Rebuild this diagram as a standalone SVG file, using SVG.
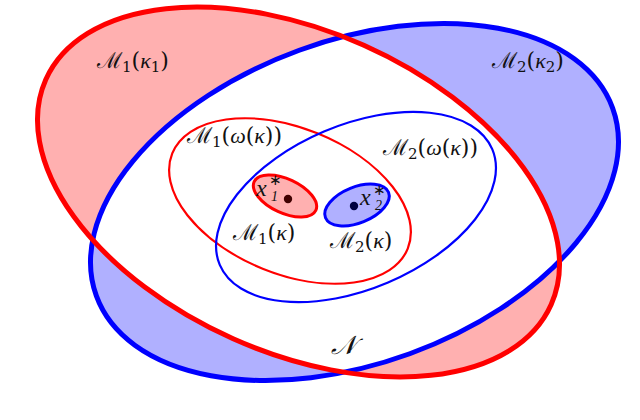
<svg xmlns="http://www.w3.org/2000/svg" width="640" height="420" viewBox="0 0 640 420">
<defs>
<style>
.lbl{font-family:"DejaVu Serif","Liberation Serif",serif;font-size:22px;fill:#111}
.it{font-style:italic;font-family:"Liberation Serif","DejaVu Serif",serif}
.sub{font-size:15px}
.sm{font-family:"Liberation Serif","DejaVu Serif",serif;font-size:14px;fill:#111}
.star{font-family:"DejaVu Sans","Liberation Sans",sans-serif;font-size:15px;fill:#111}
</style>
<clipPath id="clipRed"><ellipse cx="0" cy="0" rx="276.6" ry="160.7" transform="translate(298.5 192) rotate(24)"/></clipPath>
</defs>
<rect width="640" height="420" fill="#fff"/>
<g id="M1k1-fill"><ellipse cx="0" cy="0" rx="276.6" ry="160.7" transform="translate(298.5 192) rotate(24)" fill="#ffb0b0"/></g>
<g id="M2k2-fill"><ellipse cx="0" cy="0" rx="274.7" ry="161.5" transform="translate(354.5 202) rotate(-20)" fill="#b0b0ff"/></g>
<g id="N-region" clip-path="url(#clipRed)"><ellipse cx="0" cy="0" rx="274.7" ry="161.5" transform="translate(354.5 202) rotate(-20)" fill="#fff"/></g>
<g id="M1wk"><ellipse cx="0" cy="0" rx="127" ry="73" transform="translate(290 201) rotate(22)" fill="none" stroke="#f00" stroke-width="2.2"/></g>
<g id="M2wk"><ellipse cx="0" cy="0" rx="148" ry="82" transform="translate(356 207) rotate(-23)" fill="none" stroke="#00f" stroke-width="2.2"/></g>
<g id="M1k"><ellipse cx="0" cy="0" rx="34" ry="17" transform="translate(285 196) rotate(25)" fill="#ffb0b0" stroke="#f00" stroke-width="3"/><circle cx="288" cy="199" r="4.2" fill="#400000"/></g>
<g id="M2k"><ellipse cx="0" cy="0" rx="34" ry="18" transform="translate(357 205) rotate(-22)" fill="#b0b0ff" stroke="#00f" stroke-width="3"/><circle cx="354" cy="206" r="4.2" fill="#000040"/></g>
<g id="M2k2"><ellipse cx="0" cy="0" rx="274.7" ry="161.5" transform="translate(354.5 202) rotate(-20)" fill="none" stroke="#00f" stroke-width="5"/></g>
<g id="M1k1"><ellipse cx="0" cy="0" rx="276.6" ry="160.7" transform="translate(298.5 192) rotate(24)" fill="none" stroke="#f00" stroke-width="5"/></g>
<g id="labels">
<text class="lbl" x="97" y="68">ℳ<tspan class="sub" dy="4">1</tspan><tspan dy="-4">(</tspan><tspan class="it">κ</tspan><tspan class="sub" dy="4">1</tspan><tspan dy="-4">)</tspan></text>
<text class="lbl" x="492" y="68">ℳ<tspan class="sub" dy="4">2</tspan><tspan dy="-4">(</tspan><tspan class="it">κ</tspan><tspan class="sub" dy="4">2</tspan><tspan dy="-4">)</tspan></text>
<text class="lbl" x="187" y="143">ℳ<tspan class="sub" dy="4">1</tspan><tspan dy="-4">(</tspan><tspan class="it">ω</tspan>(<tspan class="it">κ</tspan>))</text>
<text class="lbl" x="383" y="155">ℳ<tspan class="sub" dy="4">2</tspan><tspan dy="-4">(</tspan><tspan class="it">ω</tspan>(<tspan class="it">κ</tspan>))</text>
<text class="lbl" x="233" y="240">ℳ<tspan class="sub" dy="4">1</tspan><tspan dy="-4">(</tspan><tspan class="it">κ</tspan>)</text>
<text class="lbl" x="330" y="248">ℳ<tspan class="sub" dy="4">2</tspan><tspan dy="-4">(</tspan><tspan class="it">κ</tspan>)</text>
<text class="lbl it" x="256" y="196" style="font-size:24px">x</text>
<text class="star" x="269" y="185">∗</text>
<text class="sm it" x="271" y="201">1</text>
<text class="lbl it" x="360" y="205" style="font-size:24px">x</text>
<text class="star" x="373" y="195">∗</text>
<text class="sm it" x="375" y="210">2</text>
<text class="lbl it" x="331" y="354" style="font-size:26px">𝒩</text>
</g>
</svg>
